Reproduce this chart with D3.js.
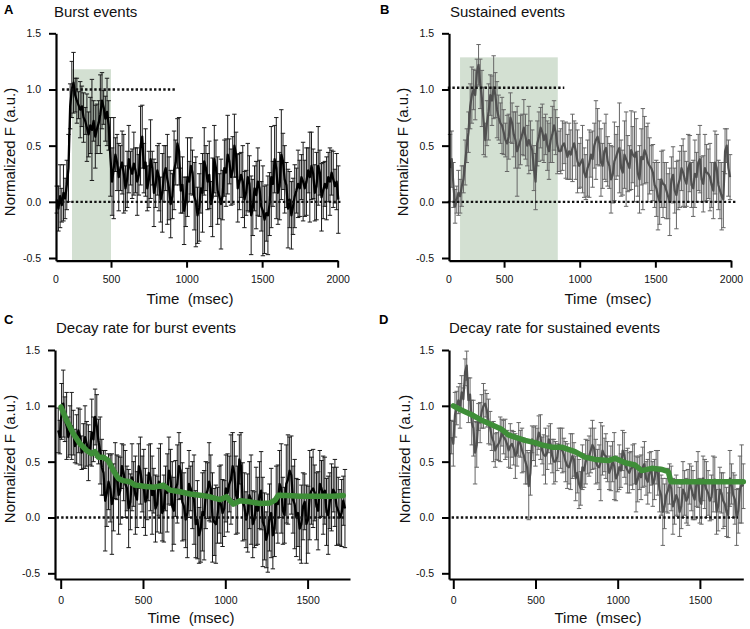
<!DOCTYPE html>
<html><head><meta charset="utf-8">
<script src="https://cdn.jsdelivr.net/npm/d3@7"></script>
<style>
body{margin:0;background:#fff;}
svg{font-family:"Liberation Sans",Arial,Helvetica,sans-serif;}
</style></head><body>
<svg id="chart" width="750" height="629"></svg>
<script>
// ---------- DATA ----------
const panelLetters = ["A", "B", "C", "D"];
const panelTitles = ["Burst events", "Sustained events", "Decay rate for burst events", "Decay rate for sustained events"];
const yTickValues = [-0.5, 0, 0.5, 1.0, 1.5];
const xTicksTop = [500, 1000, 1500, 2000];
const xTicksBottom = [0, 500, 1000, 1500];
const xLabel = "Time  (msec)";
const yLabel = "Normalized F (a.u.)";

// time span (ms) covered by each recorded trace
const spanA = [141, 2004];
const spanB = [143, 1994];
const spanC = [-15, 1727];
const spanD = [-10, 1764];

const valuesA = [
 0.02,-0.06,0.05,-0.03,0.08,0.03,0.15,0.3,0.85,1.0,1.06,0.95,0.9,0.86,0.82,0.85,0.75,0.72,0.66,0.6,
 0.68,0.64,0.72,0.58,0.65,0.7,0.78,0.9,0.84,0.74,0.8,0.68,0.4,0.18,0.3,0.42,0.35,0.22,0.3,0.35,
 0.25,0.12,0.2,0.38,0.3,0.25,0.34,0.28,0.18,0.24,0.5,0.58,0.3,0.35,0.12,0.2,0.38,0.3,0.08,0.15,
 0.28,0.22,0.02,0.08,0.25,0.3,0.2,0.12,-0.02,0.05,0.28,0.35,0.52,0.45,0.1,0.15,-0.08,0.0,0.22,0.18,
 0.32,0.26,0.05,0.0,-0.12,-0.05,0.12,0.08,0.36,0.3,0.18,0.24,-0.02,0.04,0.38,0.3,0.1,0.05,-0.02,0.06,
 0.3,0.26,0.42,0.36,0.22,0.28,0.5,0.42,0.12,0.18,0.24,0.18,0.02,0.08,0.22,0.16,-0.12,-0.05,0.12,0.06,
 0.18,0.12,-0.04,-0.08,-0.16,-0.1,-0.12,-0.02,0.22,0.16,0.38,0.3,0.08,0.14,0.42,0.36,0.2,0.15,-0.06,0.02,
 -0.12,-0.04,0.05,0.1,0.16,0.12,0.22,0.18,0.12,0.18,0.28,0.22,0.32,0.25,0.08,0.14,0.32,0.26,0.04,0.1,
 0.16,0.12,0.22,0.18,0.26,0.2,0.14,0.18,0.02];
const errorsA = [
 0.12,0.2,0.28,0.15,0.25,0.18,0.22,0.3,0.2,0.25,0.27,0.15,0.2,0.12,0.25,0.18,0.22,0.12,0.3,0.2,
 0.25,0.45,0.18,0.28,0.22,0.2,0.35,0.25,0.15,0.2,0.3,0.22,0.35,0.3,0.45,0.15,0.25,0.3,0.2,0.28,
 0.35,0.2,0.25,0.3,0.15,0.22,0.28,0.2,0.3,0.18,0.35,0.28,0.22,0.3,0.2,0.25,0.35,0.15,0.3,0.2,
 0.22,0.3,0.2,0.35,0.25,0.2,0.4,0.28,0.3,0.2,0.35,0.2,0.22,0.3,0.2,0.25,0.3,0.22,0.35,0.18,
 0.25,0.2,0.3,0.4,0.25,0.3,0.22,0.35,0.3,0.2,0.25,0.3,0.2,0.35,0.3,0.25,0.3,0.2,0.4,0.22,
 0.25,0.3,0.35,0.2,0.25,0.3,0.28,0.2,0.3,0.25,0.2,0.32,0.25,0.2,0.3,0.25,0.35,0.25,0.2,0.3,
 0.3,0.25,0.22,0.4,0.3,0.25,0.35,0.28,0.45,0.2,0.3,0.45,0.28,0.3,0.4,0.25,0.3,0.2,0.35,0.25,
 0.3,0.25,0.28,0.2,0.3,0.25,0.2,0.35,0.25,0.3,0.2,0.4,0.3,0.22,0.25,0.3,0.35,0.2,0.3,0.25,
 0.2,0.28,0.22,0.3,0.2,0.25,0.15,0.25,0.3];

const valuesB = [
 0.3,0.38,0.15,-0.04,0.02,0.08,0.05,0.14,0.2,0.35,0.5,0.62,0.85,0.95,1.0,0.95,1.15,1.22,1.05,0.92,
 0.72,0.55,0.7,0.8,0.95,0.9,1.02,0.95,0.82,0.75,0.7,0.68,0.62,0.55,0.52,0.58,0.75,0.7,0.6,0.55,
 0.45,0.5,0.55,0.6,0.66,0.58,0.5,0.55,0.5,0.46,0.3,0.18,0.52,0.58,0.66,0.62,0.55,0.6,0.5,0.45,
 0.55,0.6,0.68,0.62,0.5,0.45,0.45,0.5,0.52,0.46,0.4,0.45,0.42,0.48,0.52,0.45,0.36,0.32,0.35,0.38,
 0.26,0.22,0.3,0.34,0.42,0.38,0.5,0.55,0.58,0.52,0.35,0.32,0.45,0.48,0.36,0.32,0.2,0.24,0.36,0.4,
 0.45,0.48,0.3,0.26,0.42,0.38,0.34,0.3,0.46,0.42,0.4,0.44,0.25,0.2,0.4,0.38,0.46,0.42,0.35,0.32,
 0.3,0.26,0.15,0.12,0.05,0.0,0.2,0.16,0.15,0.1,0.05,0.0,0.2,0.24,0.1,0.06,0.15,0.2,0.3,0.26,
 0.2,0.16,0.3,0.34,0.15,0.12,0.25,0.22,0.35,0.38,0.2,0.16,0.3,0.26,0.25,0.22,0.15,0.1,0.35,0.3,
 0.15,0.1,0.05,0.02,0.45,0.5,0.3,0.22];
const errorsB = [
 0.3,0.25,0.2,0.15,0.12,0.2,0.15,0.18,0.12,0.2,0.15,0.18,0.2,0.25,0.18,0.22,0.12,0.18,0.22,0.25,
 0.3,0.15,0.2,0.25,0.18,0.22,0.28,0.2,0.25,0.2,0.18,0.25,0.2,0.15,0.25,0.2,0.22,0.18,0.2,0.25,
 0.4,0.2,0.22,0.18,0.25,0.2,0.18,0.3,0.22,0.18,0.2,0.25,0.2,0.22,0.18,0.25,0.2,0.18,0.22,0.25,
 0.2,0.25,0.22,0.2,0.25,0.18,0.2,0.22,0.18,0.25,0.2,0.25,0.22,0.3,0.2,0.25,0.28,0.2,0.22,0.3,
 0.22,0.2,0.25,0.3,0.2,0.25,0.2,0.35,0.25,0.2,0.3,0.2,0.25,0.3,0.22,0.2,0.3,0.25,0.35,0.2,
 0.22,0.4,0.25,0.2,0.3,0.42,0.25,0.2,0.35,0.25,0.4,0.3,0.2,0.3,0.25,0.45,0.3,0.25,0.35,0.25,
 0.2,0.25,0.2,0.25,0.3,0.2,0.25,0.3,0.2,0.25,0.2,0.3,0.2,0.25,0.2,0.3,0.22,0.25,0.2,0.3,
 0.25,0.2,0.3,0.25,0.2,0.25,0.3,0.22,0.25,0.3,0.2,0.25,0.3,0.25,0.22,0.3,0.2,0.25,0.28,0.3,
 0.22,0.25,0.3,0.25,0.2,0.15,0.25,0.2];

const valuesC = [
 0.78,0.72,0.95,1.02,0.88,0.82,0.72,0.78,0.82,0.76,0.64,0.7,0.78,0.72,0.58,0.64,0.72,0.66,0.58,0.62,
 0.76,0.7,0.9,0.82,0.68,0.6,0.45,0.4,0.15,0.22,0.32,0.26,0.12,0.18,0.42,0.36,0.2,0.24,0.46,0.4,
 0.3,0.26,0.08,0.14,0.36,0.3,0.2,0.16,0.46,0.42,0.3,0.26,0.14,0.18,0.4,0.36,0.2,0.24,0.08,0.12,
 0.32,0.26,0.04,0.08,0.26,0.22,0.42,0.36,0.1,0.06,0.26,0.3,0.46,0.42,0.14,0.1,-0.02,0.04,0.3,0.26,
 0.2,0.16,-0.06,-0.02,-0.16,-0.1,0.05,0.02,0.2,0.24,0.32,0.26,0.0,-0.04,-0.06,0.02,0.16,0.12,0.04,0.08,
 0.26,0.22,0.3,0.34,0.46,0.4,0.2,0.16,0.52,0.46,0.14,0.1,-0.02,0.04,0.2,0.16,-0.06,-0.02,0.1,0.06,
 0.2,0.24,-0.04,-0.08,-0.2,-0.14,0.0,0.04,-0.16,-0.1,0.16,0.12,0.3,0.26,0.06,0.02,0.3,0.34,0.42,0.38,
 0.16,0.12,0.0,0.04,-0.1,-0.06,0.1,0.14,-0.06,-0.02,0.2,0.24,0.26,0.22,0.1,0.06,0.3,0.26,0.2,0.24,
 0.05,0.02,0.15,0.18,0.25,0.22,0.1,0.06,0.0,0.04,0.15,0.08];
const errorsC = [
 0.2,0.15,0.25,0.3,0.2,0.3,0.18,0.22,0.3,0.2,0.15,0.22,0.2,0.25,0.15,0.2,0.28,0.2,0.25,0.15,
 0.3,0.2,0.25,0.28,0.2,0.3,0.25,0.2,0.45,0.3,0.25,0.3,0.45,0.3,0.25,0.2,0.35,0.3,0.2,0.25,
 0.3,0.2,0.35,0.25,0.3,0.2,0.35,0.25,0.2,0.3,0.25,0.35,0.3,0.2,0.25,0.3,0.35,0.2,0.3,0.25,
 0.3,0.4,0.25,0.3,0.2,0.35,0.3,0.25,0.4,0.3,0.25,0.35,0.3,0.25,0.35,0.3,0.25,0.4,0.3,0.2,
 0.3,0.4,0.3,0.35,0.25,0.3,0.35,0.4,0.3,0.25,0.35,0.3,0.4,0.3,0.35,0.25,0.3,0.35,0.3,0.25,
 0.3,0.35,0.25,0.4,0.3,0.28,0.35,0.3,0.22,0.3,0.35,0.3,0.25,0.35,0.3,0.4,0.3,0.25,0.35,0.3,
 0.3,0.35,0.4,0.3,0.25,0.35,0.3,0.4,0.3,0.25,0.3,0.35,0.3,0.4,0.3,0.25,0.35,0.4,0.3,0.35,
 0.3,0.4,0.35,0.3,0.28,0.35,0.3,0.25,0.35,0.3,0.4,0.3,0.35,0.25,0.3,0.35,0.3,0.25,0.35,0.3,
 0.3,0.35,0.25,0.3,0.2,0.3,0.35,0.3,0.25,0.3,0.22,0.35];

const valuesD = [
 0.72,0.66,0.92,0.98,1.05,1.0,1.12,1.06,1.3,1.36,1.05,1.1,0.85,0.8,0.58,0.65,0.9,0.85,0.95,1.0,
 1.02,0.96,0.86,0.8,0.72,0.68,0.6,0.64,0.66,0.7,0.76,0.72,0.7,0.66,0.6,0.64,0.66,0.62,0.55,0.58,
 0.7,0.66,0.6,0.56,0.5,0.45,0.28,0.4,0.7,0.66,0.64,0.68,0.76,0.72,0.6,0.56,0.55,0.58,0.7,0.66,
 0.55,0.5,0.5,0.54,0.65,0.62,0.6,0.56,0.5,0.46,0.45,0.5,0.55,0.52,0.35,0.4,0.3,0.26,0.45,0.42,
 0.5,0.54,0.55,0.6,0.65,0.62,0.5,0.46,0.45,0.5,0.6,0.56,0.55,0.5,0.4,0.44,0.5,0.46,0.35,0.38,
 0.45,0.42,0.6,0.56,0.45,0.42,0.4,0.44,0.45,0.48,0.3,0.34,0.4,0.36,0.45,0.48,0.35,0.32,0.4,0.44,
 0.3,0.34,0.45,0.4,0.25,0.2,0.05,0.1,0.2,0.24,0.3,0.26,0.1,0.14,0.2,0.16,0.05,0.1,0.25,0.22,
 0.15,0.18,0.3,0.26,0.2,0.16,0.3,0.34,0.15,0.12,0.35,0.3,0.25,0.22,0.15,0.18,0.3,0.34,0.05,0.1,
 0.25,0.22,0.15,0.12,0.05,0.02,0.35,0.3,0.2,0.16,0.0,0.06,0.25,0.3,0.28];
const errorsD = [
 0.15,0.2,0.2,0.15,0.12,0.2,0.15,0.1,0.12,0.13,0.2,0.15,0.2,0.25,0.28,0.2,0.12,0.18,0.15,0.2,
 0.12,0.15,0.2,0.15,0.12,0.18,0.15,0.12,0.15,0.2,0.12,0.15,0.18,0.12,0.15,0.2,0.12,0.15,0.2,0.12,
 0.15,0.12,0.2,0.15,0.2,0.15,0.3,0.2,0.12,0.15,0.18,0.12,0.15,0.2,0.12,0.18,0.25,0.15,0.12,0.18,
 0.15,0.2,0.18,0.12,0.15,0.18,0.2,0.15,0.18,0.2,0.15,0.25,0.2,0.15,0.2,0.18,0.22,0.15,0.2,0.15,
 0.2,0.15,0.18,0.2,0.22,0.18,0.2,0.15,0.2,0.35,0.22,0.15,0.2,0.18,0.15,0.2,0.18,0.3,0.2,0.15,
 0.2,0.15,0.18,0.2,0.15,0.2,0.18,0.15,0.2,0.18,0.25,0.2,0.15,0.2,0.18,0.2,0.15,0.2,0.18,0.15,
 0.2,0.18,0.15,0.2,0.2,0.18,0.3,0.2,0.15,0.2,0.18,0.2,0.25,0.2,0.18,0.15,0.22,0.2,0.25,0.2,
 0.2,0.25,0.18,0.2,0.22,0.18,0.2,0.25,0.2,0.18,0.2,0.22,0.25,0.2,0.18,0.2,0.25,0.2,0.2,0.22,
 0.2,0.18,0.25,0.2,0.22,0.2,0.25,0.18,0.2,0.22,0.25,0.2,0.3,0.35,0.2];

// exponential-decay fits (green)
const fitTimesC = [2,36,77,117,158,188,208,229,259,289,320,350,380,421,451,502,563,623,664,725,786,846,907,968,1008,1049,1089,1150,1211,1272,1302,1322,1373,1454,1555,1656,1717];
const fitValuesC = [0.99,0.87,0.75,0.66,0.6,0.57,0.59,0.54,0.54,0.51,0.42,0.35,0.33,0.32,0.29,0.28,0.27,0.29,0.245,0.23,0.21,0.2,0.185,0.16,0.185,0.12,0.15,0.14,0.125,0.13,0.155,0.2,0.197,0.19,0.19,0.19,0.197];
const fitTimesD = [0,51,112,173,234,294,335,375,436,497,538,599,659,740,801,862,943,984,1044,1105,1146,1207,1268,1308,1324,1389,1551,1764];
const fitValuesD = [1.0,0.96,0.92,0.87,0.83,0.79,0.74,0.72,0.69,0.67,0.65,0.63,0.63,0.59,0.54,0.52,0.51,0.53,0.49,0.47,0.42,0.44,0.43,0.41,0.32,0.32,0.32,0.32];

// stimulus windows (ms) and their top value
const windowA = [242, 500, 1.18];
const windowB = [209, 855, 1.286];

// ---------- PANEL LAYOUT ----------
const panels = [
  {letter: panelLetters[0], title: panelTitles[0], values: valuesA, errors: errorsA, span: spanA,
   xDomain: [136, 2000], xRange: [56, 337.7], yDomain: [-0.524, 1.5], yRange: [260.7, 33.3],
   xTicks: xTicksTop, zeroLabel: true, tickLen: 7, color: "#000", errColor: "#1a1a1a", lw: 2.3,
   win: windowA, refLines: [[1.0, 176, 923], [0, 176, 2030]],
   lx: 4, ly: 14, tx: 54, ty: 17, ylx: 15, yly: 152, xlx: 190, xly: 304},
  {letter: panelLetters[1], title: panelTitles[1], values: valuesB, errors: errorsB, span: spanB,
   xDomain: [136, 2000], xRange: [449, 731], yDomain: [-0.524, 1.5], yRange: [260.7, 33.3],
   xTicks: xTicksTop, zeroLabel: true, tickLen: 7, color: "#505050", errColor: "#666", lw: 2.2,
   win: windowB, refLines: [[1.016, 128, 898], [0, 128, 2031]],
   lx: 380, ly: 14, tx: 450, ty: 17, ylx: 408, yly: 152, xlx: 608, xly: 304},
  {letter: panelLetters[2], title: panelTitles[2], values: valuesC, errors: errorsC, span: spanC,
   xDomain: [-34.6, 1757.6], xRange: [55, 350], yDomain: [-0.551, 1.5], yRange: [579, 350],
   xTicks: xTicksBottom, zeroLabel: false, tickLen: 10, color: "#000", errColor: "#1a1a1a", lw: 2.3,
   win: null, refLines: [[0, -25, 1720]], fitT: fitTimesC, fitV: fitValuesC,
   lx: 4, ly: 324, tx: 56, ty: 333, ylx: 15, yly: 459, xlx: 191, xly: 623},
  {letter: panelLetters[3], title: panelTitles[3], values: valuesD, errors: errorsD, span: spanD,
   xDomain: [-26, 1764], xRange: [449, 743.3], yDomain: [-0.551, 1.5], yRange: [579, 350],
   xTicks: xTicksBottom, zeroLabel: false, tickLen: 10, color: "#505050", errColor: "#666", lw: 2.2,
   win: null, refLines: [[0, -10, 1732]], fitT: fitTimesD, fitV: fitValuesD,
   lx: 379, ly: 324, tx: 449, ty: 333, ylx: 410, yly: 459, xlx: 598, xly: 623}
];

const svg = d3.select("#chart");

panels.forEach(p => {
  const g = svg.append("g");
  const x = d3.scaleLinear().domain(p.xDomain).range(p.xRange);
  const y = d3.scaleLinear().domain(p.yDomain).range(p.yRange);
  const idx = d3.scaleLinear().domain([0, p.values.length - 1]).range(p.span);
  const pts = p.values.map((v, i) => ({t: idx(i), v: v, e: p.errors[i]}));

  // stimulus window
  if (p.win) {
    g.append("rect")
      .attr("x", x(p.win[0])).attr("width", x(p.win[1]) - x(p.win[0]))
      .attr("y", y(p.win[2])).attr("height", y(p.yDomain[0]) - y(p.win[2]))
      .attr("fill", "#d3e0d2");
  }

  // error bars
  const eb = g.append("g").attr("stroke", p.errColor).attr("stroke-width", 1).attr("fill", "none");
  pts.forEach(d => {
    const cx = x(d.t), y1 = y(d.v + d.e), y2 = y(d.v - d.e);
    eb.append("line").attr("x1", cx).attr("x2", cx).attr("y1", y1).attr("y2", y2);
    eb.append("line").attr("x1", cx - 2.2).attr("x2", cx + 2.2).attr("y1", y1).attr("y2", y1);
    eb.append("line").attr("x1", cx - 2.2).attr("x2", cx + 2.2).attr("y1", y2).attr("y2", y2);
  });

  // trace
  g.append("path").datum(pts)
    .attr("fill", "none").attr("stroke", p.color).attr("stroke-width", p.lw)
    .attr("stroke-linejoin", "round")
    .attr("d", d3.line().x(d => x(d.t)).y(d => y(d.v)));

  // dotted reference lines
  p.refLines.forEach(r => {
    g.append("line")
      .attr("x1", x(r[1])).attr("x2", x(r[2])).attr("y1", y(r[0])).attr("y2", y(r[0]))
      .attr("stroke", "#111").attr("stroke-width", 2.4).attr("stroke-dasharray", "2.4,2.2");
  });

  // fit line
  if (p.fitT) {
    const fit = p.fitT.map((t, i) => ({t: t, v: p.fitV[i]}));
    g.append("path").datum(fit)
      .attr("fill", "none").attr("stroke", "#3e8e38").attr("stroke-width", 5.5)
      .attr("stroke-linejoin", "round").attr("stroke-linecap", "round")
      .attr("d", d3.line().x(d => x(d.t)).y(d => y(d.v)));
  }

  // axes
  const yAxis = g.append("g").attr("transform", `translate(${p.xRange[0]},0)`)
    .call(d3.axisLeft(y).tickValues(yTickValues).tickFormat(d => d.toFixed(1))
      .tickSize(7).tickSizeOuter(0).tickPadding(8));
  const xAxis = g.append("g").attr("transform", `translate(0,${p.yRange[0]})`)
    .call(d3.axisBottom(x).tickValues(p.xTicks).tickFormat(d3.format("d"))
      .tickSize(p.tickLen).tickSizeOuter(0).tickPadding(15 - p.tickLen + (p.tickLen === 10 ? 3 : 0)));
  [yAxis, xAxis].forEach(a => {
    a.select(".domain").attr("stroke", "#000").attr("stroke-width", 2.2);
    a.selectAll(".tick line").attr("stroke", "#000").attr("stroke-width", 2);
    a.selectAll("text").attr("font-size", "10.5px").attr("fill", "#111")
      .attr("font-family", "'Liberation Sans', Arial, sans-serif");
  });
  if (p.zeroLabel) {
    g.append("text").attr("x", p.xRange[0]).attr("y", p.yRange[0] + 15)
      .attr("dy", "0.71em").attr("text-anchor", "middle")
      .attr("font-size", "10.5px").attr("fill", "#111").text("0");
  }

  // texts
  g.append("text").attr("x", p.lx).attr("y", p.ly)
    .attr("font-size", "13px").attr("font-weight", "bold").text(p.letter);
  g.append("text").attr("x", p.tx).attr("y", p.ty)
    .attr("font-size", "15px").attr("fill", "#111").text(p.title);
  g.append("text")
    .attr("transform", `translate(${p.ylx},${p.yly}) rotate(-90)`)
    .attr("text-anchor", "middle").attr("font-size", "15px").attr("fill", "#111").text(yLabel);
  g.append("text").attr("x", p.xlx).attr("y", p.xly)
    .attr("text-anchor", "middle").attr("font-size", "15px").attr("fill", "#111")
    .style("white-space", "pre").text(xLabel);
});
</script>
</body></html>
